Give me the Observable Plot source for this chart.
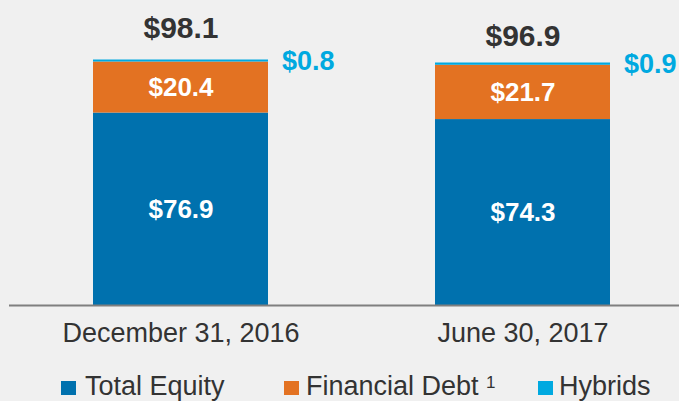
<!DOCTYPE html>
<html>
<head>
<meta charset="utf-8">
<script src="https://cdn.jsdelivr.net/npm/d3@7"></script>
<script src="https://cdn.jsdelivr.net/npm/@observablehq/plot@0.6"></script>
<style>
  html, body { margin: 0; padding: 0; background: #f0f0f0; }
  body { width: 679px; height: 401px; overflow: hidden; font-family: "Liberation Sans", Arial, sans-serif; }
  #legend { position: relative; width: 679px; height: 41px; color: #333333; }
  #legend .sw { position: absolute; width: 15px; height: 14px; top: 21px; }
  #legend .lb { position: absolute; font-size: 27px; line-height: 1; top: 13.14px; white-space: nowrap; }
  #legend .sup { position: absolute; font-size: 17px; line-height: 1; top: 14.1px; }
</style>
</head>
<body>
<div id="chart"></div>
<div id="legend"></div>
<script>
const categories = ["December 31, 2016", "June 30, 2017"];
const seriesNames = ["Total Equity", "Financial Debt", "Hybrids"];
const totalEquity = [76.9, 74.3];
const financialDebt = [20.4, 21.7];
const hybrids = [0.8, 0.9];
const totals = [98.1, 96.9];
const seriesColors = ["#0071ae", "#e37222", "#00a9e0"];

const rows = categories.flatMap((c, i) => [
  {date: c, series: seriesNames[0], value: totalEquity[i]},
  {date: c, series: seriesNames[1], value: financialDebt[i]},
  {date: c, series: seriesNames[2], value: hybrids[i]}
]);
const hybridLabels = categories.map((c, i) => ({
  date: c,
  y: totalEquity[i] + financialDebt[i] + hybrids[i] / 2,
  label: "$" + hybrids[i].toFixed(1)
}));
const totalLabels = categories.map((c, i) => ({date: c, y: totals[i], label: "$" + totals[i].toFixed(1)}));
const totalDy = [-32, -26.6];
const fmt = v => "$" + v.toFixed(1);

const chart = Plot.plot({
  width: 679,
  height: 360,
  marginLeft: 9,
  marginRight: 0,
  marginTop: 0,
  marginBottom: 0,
  style: {background: "transparent", fontFamily: "Liberation Sans, Arial, sans-serif", overflow: "visible"},
  x: {domain: categories, paddingInner: 0.4876, paddingOuter: 0.2219, align: 0.5526, axis: null},
  y: {domain: [0, 100], range: [305, 305 - 250.25], axis: null},
  color: {domain: seriesNames, range: seriesColors},
  marks: [
    Plot.barY(rows, {x: "date", y: "value", fill: "series", inset: 0}),
    Plot.text(rows.filter(d => d.series !== "Hybrids"), Plot.stackY({
      x: "date", y: "value", text: d => fmt(d.value),
      fill: "#ffffff", fontSize: 26, fontWeight: "bold"
    })),
    Plot.text(hybridLabels, {x: "date", y: "y", text: "label", textAnchor: "start", dx: 101,
      fill: "#00a9e0", fontSize: 27, fontWeight: "bold"}),
    ...totalLabels.map((d, i) => Plot.text([d], {x: "date", y: "y", text: "label", dy: totalDy[i],
      fill: "#333333", fontSize: 30, fontWeight: "bold"})),
    Plot.ruleY([0], {stroke: "#7f7f7f", strokeWidth: 2}),
    Plot.text(categories, {x: d => d, y: () => 0, text: d => d, dy: 28, fill: "#333333", fontSize: 27})
  ]
});
document.getElementById("chart").appendChild(chart);

const legend = document.getElementById("legend");
const swLeft = [61, 284, 538];
const lbLeft = [85, 306, 559];
seriesNames.forEach((name, i) => {
  const sw = document.createElement("div");
  sw.className = "sw";
  sw.style.left = swLeft[i] + "px";
  sw.style.background = seriesColors[i];
  legend.appendChild(sw);
  const lb = document.createElement("div");
  lb.className = "lb";
  lb.style.left = lbLeft[i] + "px";
  lb.textContent = name;
  legend.appendChild(lb);
});
const sup = document.createElement("div");
sup.className = "sup";
sup.style.left = "486px";
sup.textContent = "1";
legend.appendChild(sup);
</script>
</body>
</html>
